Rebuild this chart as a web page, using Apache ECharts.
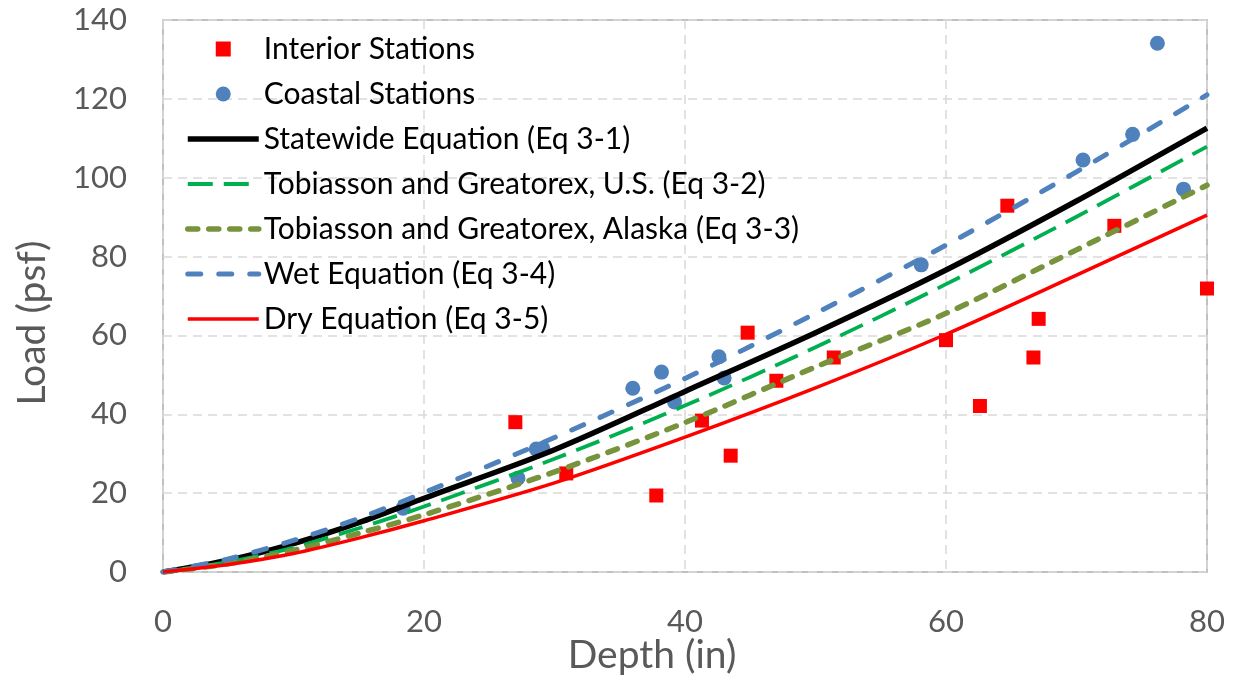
<!DOCTYPE html>
<html>
<head>
<meta charset="utf-8">
<title>Load vs Depth</title>
<script src="https://cdn.jsdelivr.net/npm/echarts@6/dist/echarts.min.js"></script>
<style>
  html, body { margin: 0; padding: 0; background: #fff; }
  #chart { width: 1237px; height: 679px; }
</style>
</head>
<body>
<div id="chart"></div>
<script>
// station data (depth in, load psf)
var interiorStations = [
  [27.0, 38.0], [30.9, 25.0], [37.8, 19.4], [41.3, 38.4], [43.5, 29.5],
  [44.8, 60.7], [47.0, 48.5], [51.4, 54.4], [60.0, 58.8], [62.6, 42.1],
  [64.7, 92.9], [66.7, 54.4], [67.1, 64.2], [72.9, 87.8], [80.0, 71.9]
];
var coastalStations = [
  [18.4, 16.2], [27.2, 23.8], [28.6, 31.2], [29.1, 31.4], [36.0, 46.6],
  [38.2, 50.7], [39.2, 43.1], [42.6, 54.6], [43.0, 49.2], [58.1, 77.9],
  [70.5, 104.5], [74.3, 111.0], [76.2, 134.1], [78.2, 97.1]
];

// equation curves read at these depths
var depths = [0, 5, 10, 15, 20, 30, 40, 50, 60, 70, 80];
var statewide = [0, 3.0, 7.2, 12.5, 18.7, 31.0, 45.8, 60.7, 76.6, 94.1, 112.6];
var tobiassonUS = [0, 2.5, 6.2, 11.1, 16.6, 28.7, 42.2, 57.0, 73.0, 90.1, 107.9];
var tobiassonAK = [0, 2.1, 5.5, 9.8, 14.5, 25.4, 37.9, 52.0, 65.6, 81.7, 98.1];
var wetEq = [0, 3.3, 8.0, 13.6, 20.1, 34.1, 49.1, 65.6, 82.9, 101.5, 121.0];
var dryEq = [0, 1.9, 4.7, 8.6, 13.0, 22.6, 34.2, 46.7, 60.3, 75.3, 90.5];

var xTicks = [0, 20, 40, 60, 80];
var yTicks = [0, 20, 40, 60, 80, 100, 120, 140];

function pairs(ys) {
  return depths.map(function (d, i) { return [d, ys[i]]; });
}

var FONT = 'Lato';
var chart = echarts.init(document.getElementById('chart'));

// one style per equation, shared by the curve and its legend entry
var styles = {
  'Statewide Equation (Eq 3-1)': { color: '#000000', width: 5.5, type: 'solid', cap: 'butt' },
  'Tobiasson and Greatorex, U.S. (Eq 3-2)': { color: '#00b050', width: 3.8, type: [25, 11], cap: 'butt' },
  'Tobiasson and Greatorex, Alaska (Eq 3-3)': { color: '#77933c', width: 5.5, type: [10, 11], cap: 'round' },
  'Wet Equation (Eq 3-4)': { color: '#4f81bd', width: 5, type: [13, 18], cap: 'round' },
  'Dry Equation (Eq 3-5)': { color: '#ff0000', width: 3.5, type: 'solid', cap: 'butt' }
};

function curve(name, ys) {
  var s = styles[name];
  return {
    name: name,
    type: 'line',
    data: pairs(ys),
    smooth: 0.3,
    showSymbol: false,
    symbol: 'none',
    z: 3,
    lineStyle: { color: s.color, width: s.width, type: s.type, cap: s.cap },
    itemStyle: { color: s.color }
  };
}

// line entries in the legend: no marker dot, just the stroke
function lineItem(name) {
  var s = styles[name];
  return {
    name: name,
    itemStyle: { opacity: 0 },
    lineStyle: { color: s.color, width: s.width, type: s.type, cap: s.cap }
  };
}

var option = {
  animation: false,
  textStyle: { fontFamily: FONT },
  grid: {
    left: 163, right: 30, top: 20, bottom: 107,
    show: true,
    borderColor: '#c0c0c0',
    borderWidth: 2
  },
  legend: {
    orient: 'vertical',
    left: 185,
    top: 34,
    padding: 0,
    itemWidth: 71,
    itemHeight: 15,
    itemGap: 15,
    textStyle: { fontFamily: FONT, fontSize: 30, color: '#000' },
    data: [
      { name: 'Interior Stations', icon: 'path://M0,0h1v1h-1z' },
      { name: 'Coastal Stations', icon: 'circle' },
      lineItem('Statewide Equation (Eq 3-1)'),
      lineItem('Tobiasson and Greatorex, U.S. (Eq 3-2)'),
      lineItem('Tobiasson and Greatorex, Alaska (Eq 3-3)'),
      lineItem('Wet Equation (Eq 3-4)'),
      lineItem('Dry Equation (Eq 3-5)')
    ]
  },
  xAxis: {
    type: 'value',
    min: xTicks[0],
    max: xTicks[xTicks.length - 1],
    interval: 20,
    axisLine: { show: false },
    axisTick: { show: false },
    axisLabel: { color: '#595959', fontSize: 31, fontFamily: FONT, margin: 34 },
    splitLine: { show: true, lineStyle: { color: '#d9d9d9', width: 1.5, type: [9, 6] } }
  },
  yAxis: {
    type: 'value',
    min: yTicks[0],
    max: yTicks[yTicks.length - 1],
    interval: 20,
    axisLine: { show: false },
    axisTick: { show: false },
    axisLabel: { color: '#595959', fontSize: 31, fontFamily: FONT, margin: 36 },
    splitLine: { show: true, lineStyle: { color: '#d9d9d9', width: 1.5, type: [9, 6] } }
  },
  graphic: [
    {
      type: 'text',
      x: 652,
      y: 655,
      style: { text: 'Depth (in)', fill: '#595959', font: '39px ' + FONT, align: 'center', verticalAlign: 'middle' }
    },
    {
      type: 'text',
      x: 32,
      y: 323,
      rotation: Math.PI / 2,
      style: { text: 'Load (psf)', fill: '#595959', font: '39px ' + FONT, align: 'center', verticalAlign: 'middle' }
    }
  ],
  series: [
    {
      name: 'Interior Stations',
      type: 'scatter',
      data: interiorStations,
      symbol: 'rect',
      symbolSize: 14,
      z: 2,
      itemStyle: { color: '#ff0000', opacity: 1 }
    },
    {
      name: 'Coastal Stations',
      type: 'scatter',
      data: coastalStations,
      symbol: 'circle',
      symbolSize: 15,
      z: 2,
      itemStyle: { color: '#4f81bd', opacity: 1 }
    },
    curve('Statewide Equation (Eq 3-1)', statewide),
    curve('Tobiasson and Greatorex, U.S. (Eq 3-2)', tobiassonUS),
    curve('Tobiasson and Greatorex, Alaska (Eq 3-3)', tobiassonAK),
    curve('Wet Equation (Eq 3-4)', wetEq),
    curve('Dry Equation (Eq 3-5)', dryEq)
  ]
};

chart.setOption(option);
</script>
</body>
</html>
